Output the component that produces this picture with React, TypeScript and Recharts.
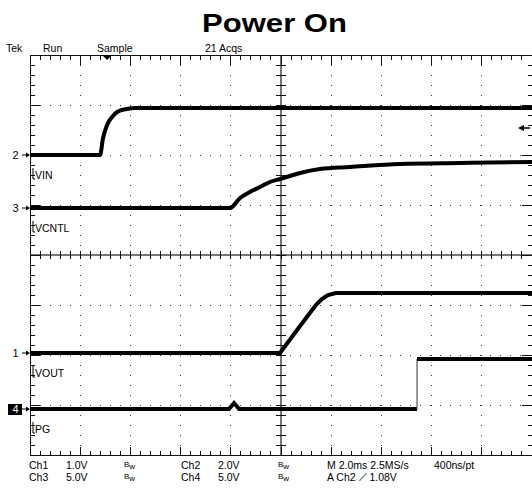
import { LineChart, Line, XAxis, YAxis, CartesianGrid, ReferenceLine, ReferenceDot } from 'recharts';

// screen grid: 10 divisions of 2 ms across, 8 divisions up
const divTimes = [0, 2, 4, 6, 8, 10, 12, 14, 16, 18, 20];
const divLevels = [0, 1, 2, 3, 4, 5, 6, 7, 8];

// channels, in the order their markers appear from top to bottom
const channelIds = ['2', '3', '1', '4'];
const channelNames = ['VIN', 'VCNTL', 'VOUT', 'PG'];
const channelScales = [2.0, 5.0, 1.0, 5.0]; // V/div
const channelGrounds = [6.0, 4.94, 2.04, 0.92]; // ground marker, in divisions

// traces (time in ms from the left edge of the screen, value in volts)
const vinTime = [0, 2.79, 2.91, 3.07, 3.27, 3.47, 3.86, 4.18, 20];
const vinVolts = [0, 0, 0.68, 1.2, 1.52, 1.72, 1.84, 1.88, 1.88];

const vcntlTime = [0, 7.97, 8.37, 8.76, 9.16, 9.56, 9.96, 10.36, 10.76, 11.55, 12.75, 14.74, 17.13, 20];
const vcntlVolts = [0, 0, 1.0, 1.6, 2.1, 2.6, 2.9, 3.2, 3.5, 3.9, 4.1, 4.4, 4.5, 4.6];

const voutTime = [0, 9.96, 10.76, 11.39, 11.63, 11.87, 12.19, 20];
const voutVolts = [0, 0, 0.54, 0.96, 1.08, 1.16, 1.2, 1.2];

const pgTime = [0, 7.93, 8.13, 8.33, 15.42, 15.42, 20];
const pgVolts = [0, 0, 0.6, 0, 0, 5.0, 5.0];

// trigger: A Ch2 rising at 1.08 V
const triggerTime = 3.07;
const triggerVolts = 1.08;

const FONT = '"Liberation Sans", Arial, sans-serif';

const toRows = (times: number[], volts: number[], ch: number) =>
  times.map((t, i) => ({ t, v: channelGrounds[ch] + volts[i] / channelScales[ch] }));

const vinRows = toRows(vinTime, vinVolts, 0);
const vcntlRows = toRows(vcntlTime, vcntlVolts, 1);
const voutRows = toRows(voutTime, voutVolts, 2);
const pgRows = toRows(pgTime, pgVolts, 3);

// minor graticule ticks every 1/5 division
const xMinor = Array.from({ length: 49 }, (_, i) => +((i + 1) * 0.4).toFixed(2));
const yMinor = Array.from({ length: 39 }, (_, i) => +((i + 1) * 0.2).toFixed(2));
const xMajor = divTimes.slice(1, -1);
const yMajor = divLevels.slice(1, -1);

function seg(key: string, x1: number, y1: number, x2: number, y2: number, color = '#111') {
  return (
    <ReferenceLine
      key={key}
      xAxisId="t"
      yAxisId="d"
      segment={[{ x: x1, y: y1 }, { x: x2, y: y2 }]}
      stroke={color}
      strokeWidth={1}
      ifOverflow="visible"
    />
  );
}

function ChannelTick(props: any) {
  const { x, y, payload, index } = props;
  let i = channelGrounds.findIndex((g) => Math.abs(g - Number(payload?.value)) < 1e-6);
  if (i < 0 && typeof index === 'number') i = index;
  if (i < 0 || i >= channelIds.length) return <g />;
  const boxed = channelIds[i] === '4';
  return (
    <g>
      {boxed && <rect x={x - 22} y={y - 5} width={14} height={11} fill="#000" />}
      <text x={x - 14.5} y={y + 4} textAnchor="middle" fontSize={11} fontFamily={FONT} fill={boxed ? '#fff' : '#000'}>
        {channelIds[i]}
      </text>
      <line x1={x - 8} y1={y} x2={x - 2} y2={y} stroke="#000" strokeWidth={1} />
      <polygon points={`${x - 4},${y - 2.5} ${x},${y} ${x - 4},${y + 2.5}`} fill="#000" />
      <line x1={x + 3} y1={y + 13} x2={x + 3} y2={y + 24} stroke="#000" strokeWidth={1} />
      <line x1={x + 3} y1={y + 24} x2={x + 5} y2={y + 24} stroke="#000" strokeWidth={1} />
      <text x={x + 5} y={y + 24} fontSize={10.5} fontFamily={FONT} fill="#000">
        {channelNames[i]}
      </text>
    </g>
  );
}

function Bw({ x, y }: { x: number; y: number }) {
  return (
    <text x={x} y={y} fontFamily={FONT} fill="#000">
      <tspan fontSize={8} dy={-2}>B</tspan>
      <tspan fontSize={8} dy={2}>w</tspan>
    </text>
  );
}

export default function App() {
  const trigLevel = channelGrounds[0] + triggerVolts / channelScales[0];
  const txt = { fontFamily: FONT, fontSize: 10.5, fill: '#000' };
  return (
    <div style={{ position: 'absolute', left: 0, top: 0, width: 532, height: 490, background: '#fff' }}>
      <style>{`.recharts-cartesian-grid line, .recharts-reference-line line { shape-rendering: crispEdges; }`}</style>
      <LineChart width={532} height={490} margin={{ top: 55, right: 0, bottom: 35, left: 0 }}>
        <XAxis xAxisId="t" type="number" dataKey="t" domain={[0, 20]} ticks={divTimes} hide allowDataOverflow />
        <YAxis yAxisId="d" type="number" domain={[0, 8]} ticks={divLevels} hide allowDataOverflow />
        <YAxis
          yAxisId="ch"
          type="number"
          domain={[0, 8]}
          allowDataOverflow
          ticks={channelGrounds}
          interval={0}
          width={30}
          axisLine={false}
          tickLine={false}
          tickSize={0}
          tickMargin={0}
          tick={ChannelTick}
        />
        <CartesianGrid xAxisId="t" yAxisId="d" stroke="#333" strokeDasharray="1 9" />

        {/* graticule: border, centre cross and their ticks */}
        <ReferenceLine xAxisId="t" yAxisId="d" x={10} stroke="#777" strokeWidth={1.5} />
        <ReferenceLine xAxisId="t" yAxisId="d" y={4} stroke="#777" strokeWidth={1.5} />
        <ReferenceLine xAxisId="t" yAxisId="d" x={0} stroke="#111" />
        <ReferenceLine xAxisId="t" yAxisId="d" y={8} stroke="#111" />
        <ReferenceLine xAxisId="t" yAxisId="d" y={0} stroke="#111" />
        {xMinor.map((t) => seg(`tt${t}`, t, 8, t, 7.9))}
        {xMajor.map((t) => seg(`tT${t}`, t, 8, t, 7.8))}
        {xMinor.map((t) => seg(`bt${t}`, t, 0, t, 0.08))}
        {xMajor.map((t) => seg(`bT${t}`, t, 0, t, 0.16))}
        {xMinor.map((t) => seg(`ct${t}`, t, 3.92, t, 4.08))}
        {yMinor.map((y) => seg(`ly${y}`, 0, y, 0.2, y))}
        {yMajor.map((y) => seg(`lY${y}`, 0, y, 0.4, y))}
        {yMinor.map((y) => seg(`ry${y}`, 20, y, 19.84, y))}
        {yMajor.map((y) => seg(`rY${y}`, 20, y, 19.6, y))}
        {yMinor.map((y) => seg(`cy${y}`, 9.8, y, 10.2, y))}

        <Line xAxisId="t" yAxisId="d" data={vinRows} dataKey="v" type="monotone" stroke="#000" strokeWidth={4} dot={false} isAnimationActive={false} />
        <Line xAxisId="t" yAxisId="d" data={vcntlRows} dataKey="v" type="monotone" stroke="#000" strokeWidth={4} dot={false} isAnimationActive={false} />
        <Line xAxisId="t" yAxisId="d" data={voutRows} dataKey="v" type="linear" stroke="#000" strokeWidth={4} dot={false} isAnimationActive={false} />
        <Line xAxisId="t" yAxisId="d" data={pgRows.slice(0, 5)} dataKey="v" type="linear" stroke="#000" strokeWidth={4} dot={false} isAnimationActive={false} />
        <Line xAxisId="t" yAxisId="d" data={pgRows.slice(4, 6)} dataKey="v" type="linear" stroke="#555" strokeWidth={1.2} dot={false} isAnimationActive={false} />
        <Line xAxisId="t" yAxisId="d" data={pgRows.slice(5)} dataKey="v" type="linear" stroke="#000" strokeWidth={4} dot={false} isAnimationActive={false} />

        <ReferenceDot
          xAxisId="t"
          yAxisId="d"
          x={triggerTime}
          y={8}
          ifOverflow="visible"
          shape={(p: any) => <polygon points={`${p.cx - 5},${p.cy} ${p.cx + 5},${p.cy} ${p.cx},${p.cy + 5}`} fill="#000" />}
        />
        <ReferenceDot
          xAxisId="t"
          yAxisId="d"
          x={20}
          y={trigLevel}
          ifOverflow="visible"
          shape={(p: any) => (
            <g>
              <line x1={p.cx - 10} y1={p.cy} x2={p.cx - 2} y2={p.cy} stroke="#000" strokeWidth={1.5} />
              <polygon points={`${p.cx - 14},${p.cy} ${p.cx - 8},${p.cy - 3} ${p.cx - 8},${p.cy + 3}`} fill="#000" />
            </g>
          )}
        />
      </LineChart>

      <svg width={532} height={490} style={{ position: 'absolute', left: 0, top: 0, pointerEvents: 'none' }}>
        <text x={202} y={32} fontFamily={FONT} fontWeight="bold" fontSize={26} textLength={145} lengthAdjust="spacingAndGlyphs" fill="#000">
          Power On
        </text>
        <text x={6} y={52} {...txt}>Tek</text>
        <text x={43} y={52} {...txt}>Run</text>
        <text x={97} y={52} {...txt}>Sample</text>
        <text x={205} y={52} {...txt}>21 Acqs</text>

        <text x={29} y={469} {...txt}>Ch1</text>
        <text x={66} y={469} {...txt}>1.0V</text>
        <Bw x={124} y={469} />
        <text x={181} y={469} {...txt}>Ch2</text>
        <text x={218} y={469} {...txt}>2.0V</text>
        <Bw x={278} y={469} />
        <text x={327} y={469} {...txt}>M 2.0ms 2.5MS/s</text>
        <text x={434} y={469} {...txt}>400ns/pt</text>

        <text x={29} y={481} {...txt}>Ch3</text>
        <text x={66} y={481} {...txt}>5.0V</text>
        <Bw x={124} y={481} />
        <text x={181} y={481} {...txt}>Ch4</text>
        <text x={218} y={481} {...txt}>5.0V</text>
        <Bw x={278} y={481} />
        <text x={327} y={481} {...txt}>A  Ch2  ⟋  1.08V</text>
      </svg>
    </div>
  );
}
